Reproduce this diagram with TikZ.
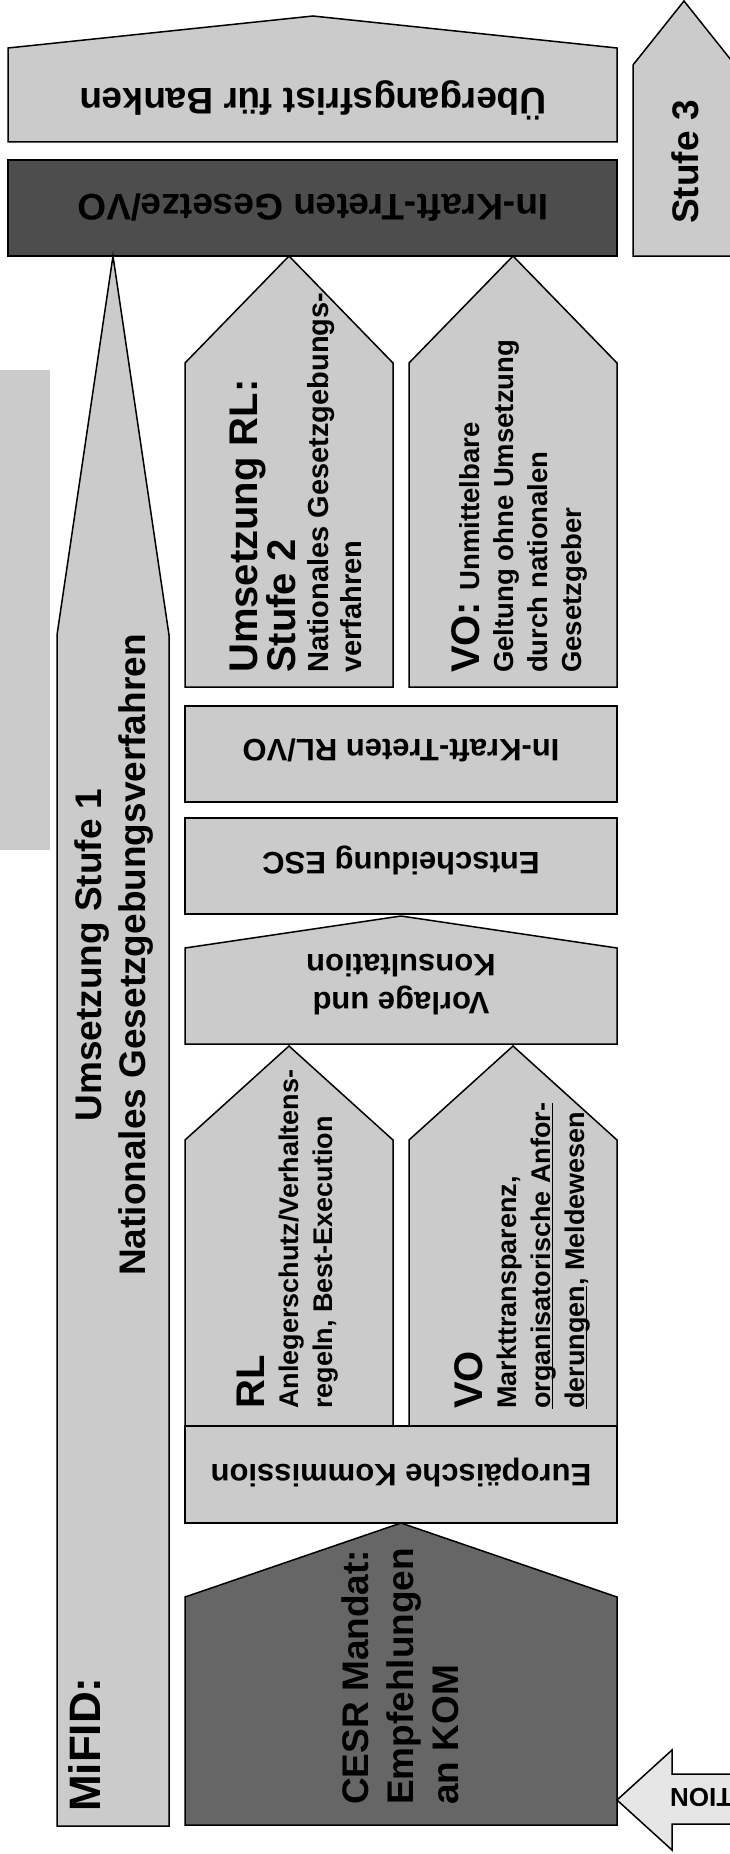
\documentclass[tikz,border=0pt]{standalone}
\usepackage{fontspec}
\setmainfont{Liberation Sans}
\usepackage{tikz}
\usetikzlibrary{positioning,calc}
\definecolor{panelgray}{HTML}{CBCBCB}
\definecolor{lawgray}{HTML}{4D4D4D}
\definecolor{cesrgray}{HTML}{666666}
\definecolor{palegray}{HTML}{E6E6E6}

\newcommand{\bigtxt}{\fontsize{40}{46}\selectfont}
\newcommand{\smalltxt}{\fontsize{27}{34}\selectfont}
\newcommand{\midtxt}{\fontsize{29}{33}\selectfont}
\newcommand{\undl}[1]{\sbox0{#1}\rlap{\rule[-3pt]{\wd0}{1.4pt}}\usebox0}

\begin{document}
\begin{tikzpicture}[x=1pt,y=-1pt,
  panel/.style={draw=black,line width=1.5pt,fill=panelgray},
  darkpanel/.style={panel,fill=lawgray},
  cesrpanel/.style={panel,fill=cesrgray},
  uplabel/.style={rotate=90,anchor=west,align=left,inner sep=0pt},
  fliplabel/.style={rotate=180,align=center,inner sep=0pt}]
  \useasboundingbox (0,0) rectangle (730,1854);
  \clip (0,0) rectangle (730,1854);

  % Stufe 3: Uebergangsfrist und Inkrafttreten
  \draw[panel] (8,48) -- (313,16) -- (617,48) -- (617,142) -- (8,142) -- cycle;
  \node[fliplabel,font=\bfseries\fontsize{37}{44}\selectfont] (frist) at (313,100) {Übergangsfrist für Banken};
  \draw[darkpanel] (8,160) rectangle (617,256);
  \node[fliplabel,font=\bfseries\fontsize{37}{44}\selectfont] (gesetze) at (313,208) {In-Kraft-Treten Gesetze/VO};
  \draw[panel] (633,256) -- (633,65) -- (684,1) -- (735,65) -- (735,256) -- cycle;
  \node[uplabel,anchor=center,font=\bfseries\fontsize{37}{44}\selectfont] (stufe3) at (685,162) {Stufe 3};

  % grauer Streifen links
  \fill[panelgray] (0,370) rectangle (50,850);

  % MiFID Pfeil
  \draw[panel] (57,1826) -- (57,635) -- (113,256) -- (169,635) -- (169,1826) -- cycle;
  \node[uplabel,font=\bfseries\fontsize{44}{50}\selectfont] (mifid) at (85,1812) {MiFID:};
  \node[uplabel,anchor=center,align=center,font=\bfseries\fontsize{37}{44}\selectfont] (stufe1) at (114,955) {Umsetzung Stufe 1\\Nationales Gesetzgebungsverfahren};

  % Stufe 2
  \draw[panel] (185,687) -- (185,363) -- (289,256) -- (393,363) -- (393,687) -- cycle;
  \draw[panel] (409,687) -- (409,363) -- (513,256) -- (617,363) -- (617,687) -- cycle;
  \node[uplabel,font=\bfseries\midtxt] (umsrl) at (296,673) {\bigtxt Umsetzung RL:\\ \bigtxt Stufe 2\\ Nationales Gesetzgebungs-\\ verfahren};
  \node[uplabel,font=\bfseries\fontsize{27.5}{34}\selectfont] (vounm) at (519,673) {\bigtxt VO: \fontsize{27.5}{34}\selectfont Unmittelbare\\ Geltung ohne Umsetzung\\ durch nationalen\\ Gesetzgeber};

  % Stufe 1: Verfahren
  \draw[panel] (185,706) rectangle (617,802);
  \node[fliplabel,font=\bfseries\fontsize{31}{38}\selectfont] (rlvo) at (401,750) {In-Kraft-Treten RL/VO};
  \draw[panel] (185,818) rectangle (617,914);
  \node[fliplabel,font=\bfseries\fontsize{31}{38}\selectfont] (esc) at (401,860) {Entscheidung ESC};
  \draw[panel] (185,1044) -- (185,948) -- (401,916) -- (617,948) -- (617,1044) -- cycle;
  \node[fliplabel,font=\bfseries\fontsize{31}{38}\selectfont] (vorlage) at (401,985) {Vorlage und\\Konsultation};

  \draw[panel] (185,1426) -- (185,1140) -- (289,1046) -- (393,1140) -- (393,1426) -- cycle;
  \draw[panel] (409,1426) -- (409,1140) -- (513,1046) -- (617,1140) -- (617,1426) -- cycle;
  \node[uplabel,font=\bfseries\smalltxt] (rl) at (288,1409) {\bigtxt RL\\ Anlegerschutz/Verhaltens-\\ regeln, Best-Execution};
  \node[uplabel,font=\bfseries\smalltxt] (vo) at (522,1409) {\bigtxt VO\\ Markttransparenz,\\ \undl{organisatorische Anfor-}\\ \undl{derungen}, Meldewesen};

  \draw[panel] (185,1426) rectangle (617,1523);
  \node[fliplabel,font=\bfseries\fontsize{31}{38}\selectfont] (kom) at (401,1472) {Europäische Kommission};

  % CESR
  \draw[cesrpanel] (185,1825) -- (185,1597) -- (401,1523) -- (617,1597) -- (617,1825) -- cycle;
  \node[uplabel,font=\bfseries\fontsize{37}{45}\selectfont] (cesr) at (400,1805) {CESR Mandat:\\ Empfehlungen\\ an KOM};

  % Pfeil unten rechts
  \draw[panel,fill=palegray] (617,1800) -- (672,1750) -- (672,1774) -- (740,1774) -- (740,1824) -- (672,1824) -- (672,1850) -- cycle;
  \node[rotate=180,anchor=east,inner sep=0pt,font=\bfseries\fontsize{26}{30}\selectfont] (tion) at (670,1797) {TION};
\end{tikzpicture}
\end{document}
